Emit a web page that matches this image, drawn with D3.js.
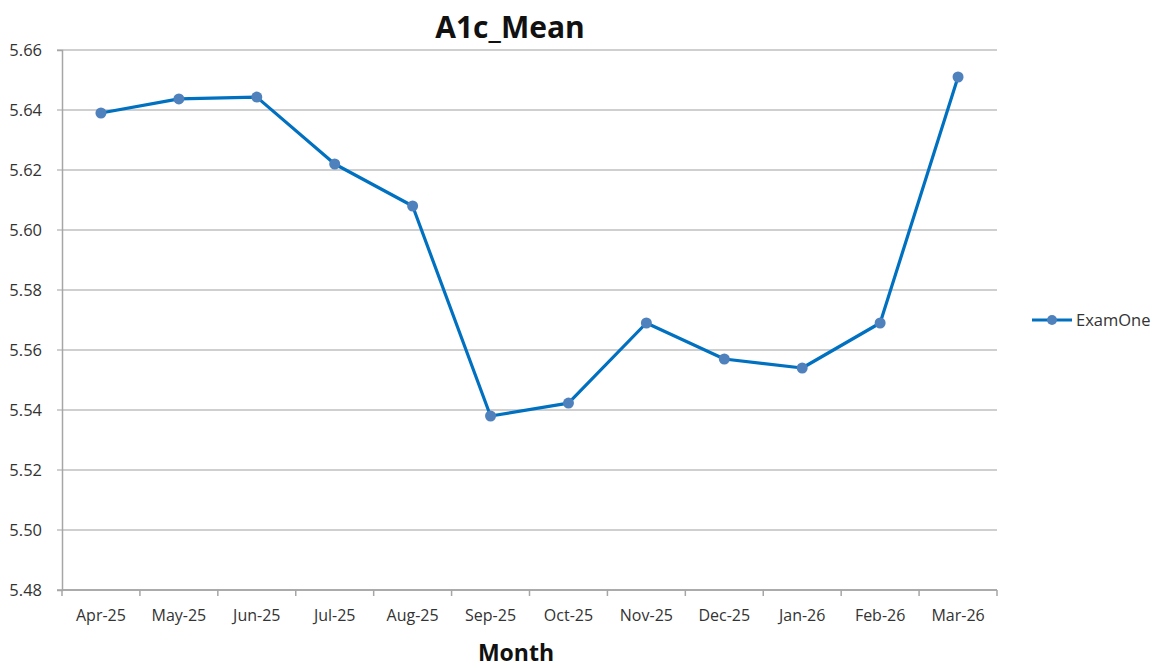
<!DOCTYPE html>
<html>
<head>
<meta charset="utf-8">
<script src="https://cdn.jsdelivr.net/npm/d3@7"></script>
<style>
  body { margin: 0; background: #fff; }
  text { font-family: "Open Sans", "Noto Sans", sans-serif; }
</style>
</head>
<body>
<svg width="1157" height="668"></svg>
<script>
var months = ["Apr-25","May-25","Jun-25","Jul-25","Aug-25","Sep-25","Oct-25","Nov-25","Dec-25","Jan-26","Feb-26","Mar-26"];
var examOne = [5.639, 5.6437, 5.6443, 5.622, 5.608, 5.538, 5.5423, 5.569, 5.557, 5.554, 5.569, 5.651];
var yTicks = [5.48, 5.50, 5.52, 5.54, 5.56, 5.58, 5.60, 5.62, 5.64, 5.66];

var svg = d3.select("svg"),
    margin = {top: 50, right: 160, bottom: 78, left: 62},
    width = 997 - margin.left,
    height = 590 - margin.top,
    g = svg.append("g").attr("transform", "translate(" + margin.left + "," + margin.top + ")");

var x = d3.scaleBand().domain(months).range([0, width]);
var y = d3.scaleLinear().domain([5.48, 5.66]).range([height, 0]);

// gridlines
g.append("g")
  .selectAll("line")
  .data(yTicks)
  .enter().append("line")
    .attr("x1", -5)
    .attr("x2", width)
    .attr("y1", function(d) { return y(d); })
    .attr("y2", function(d) { return y(d); })
    .attr("stroke", function(d) { return d === 5.48 ? "#a6a6a6" : "#bfbfbf"; })
    .attr("stroke-width", 1.5);

// y axis
var yAxis = g.append("g")
  .call(d3.axisLeft(y).tickValues(yTicks).tickFormat(d3.format(".2f")).tickSize(5).tickPadding(15));
yAxis.select(".domain").attr("stroke", "#a6a6a6").attr("stroke-width", 1.5);
yAxis.selectAll(".tick line").remove();
yAxis.selectAll("text").attr("font-size", 16.5).attr("fill", "#333");

// x axis: ticks at band boundaries
var xAxis = g.append("g").attr("transform", "translate(0," + height + ")");
xAxis.append("line").attr("x1", 0).attr("x2", width).attr("stroke", "#a6a6a6").attr("stroke-width", 1.5);
xAxis.selectAll(".bt")
  .data(months.concat(["end"]))
  .enter().append("line")
    .attr("x1", function(d, i) { return i * x.bandwidth(); })
    .attr("x2", function(d, i) { return i * x.bandwidth(); })
    .attr("y1", 0).attr("y2", 6)
    .attr("stroke", "#a6a6a6").attr("stroke-width", 1.5);
xAxis.selectAll(".lbl")
  .data(months)
  .enter().append("text")
    .attr("x", function(d) { return x(d) + x.bandwidth() / 2; })
    .attr("y", 31)
    .attr("text-anchor", "middle")
    .attr("font-size", 16)
    .attr("fill", "#333")
    .text(function(d) { return d; });

// line
var line = d3.line()
  .x(function(d, i) { return x(months[i]) + x.bandwidth() / 2; })
  .y(function(d) { return y(d); });

g.append("path")
  .datum(examOne)
  .attr("fill", "none")
  .attr("stroke", "#0070c0")
  .attr("stroke-width", 3.2)
  .attr("stroke-linejoin", "round")
  .attr("d", line);

g.selectAll(".pt")
  .data(examOne)
  .enter().append("circle")
    .attr("cx", function(d, i) { return x(months[i]) + x.bandwidth() / 2; })
    .attr("cy", function(d) { return y(d); })
    .attr("r", 5.5)
    .attr("fill", "#4f81bd");

// title
svg.append("text")
  .attr("x", 510).attr("y", 38)
  .attr("text-anchor", "middle")
  .attr("font-size", 30).attr("font-weight", "bold").attr("fill", "#111")
  .text("A1c_Mean");

svg.append("text")
  .attr("x", 516).attr("y", 661)
  .attr("text-anchor", "middle")
  .attr("font-size", 23).attr("font-weight", "bold").attr("fill", "#111")
  .text("Month");

// legend
var leg = svg.append("g").attr("transform", "translate(1032,320)");
leg.append("line").attr("x1", 0).attr("x2", 40).attr("stroke", "#0070c0").attr("stroke-width", 3.2);
leg.append("circle").attr("cx", 20).attr("r", 5).attr("fill", "#4f81bd");
leg.append("text").attr("x", 44).attr("y", 6).attr("font-size", 16.5).attr("fill", "#333").text("ExamOne");
</script>
</body>
</html>
